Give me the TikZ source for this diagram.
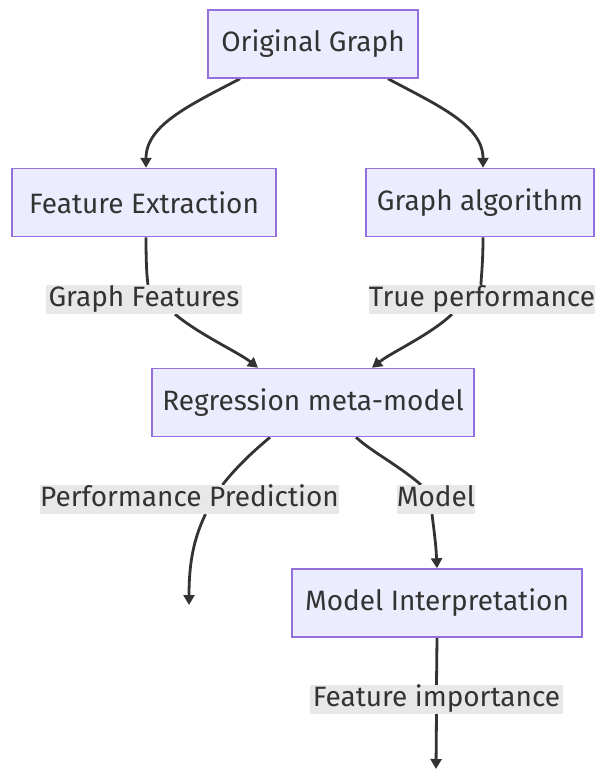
\documentclass[tikz,border=0pt]{standalone}
\usepackage{fontspec}
\setmainfont{Fira Sans}
\usetikzlibrary{arrows.meta,backgrounds}
\definecolor{boxfill}{HTML}{ECECFF}
\definecolor{boxline}{HTML}{9370DB}
\definecolor{lblfill}{HTML}{E8E8E8}
\definecolor{ink}{HTML}{333333}
\begin{document}
\begin{tikzpicture}[x=1pt,y=-1pt,
  box/.style={draw=boxline, fill=boxfill, line width=1.5pt, minimum height=68pt, inner sep=0pt, text=ink, font=\fontsize{28}{32}\selectfont},
  lbl/.style={fill=lblfill, inner sep=0pt, minimum height=29pt, text height=20pt, text depth=6pt, text=ink, font=\fontsize{28}{32}\selectfont},
  conn/.style={draw=ink, line width=2.8pt, -{Triangle[length=10pt,width=11pt]}},
  plain/.style={draw=ink, line width=2.8pt}]
\useasboundingbox (0,0) rectangle (596,769);

\node[box, minimum width=210pt] (og) at (313,44) {Original Graph};
\node[box, minimum width=264pt] (fe) at (144,202.5) {Feature Extraction};
\node[box, minimum width=228pt] (ga) at (480,202.5) {Graph algorithm};
\node[box, minimum width=322pt] (rm) at (313,402.5) {Regression meta-model};
\node[box, minimum width=290pt] (mi) at (437,603) {Model Interpretation};

\node[lbl, minimum width=196pt] (gf) at (144,299.5) {Graph Features};
\node[lbl, minimum width=226pt] (tp) at (482,299.5) {True performance};
\node[lbl, minimum width=299pt] (pp) at (189.5,499.5) {Performance Prediction};
\node[lbl, minimum width=76pt] (md) at (436,499.5) {Model};
\node[lbl, minimum width=253pt] (fi) at (436.5,699.5) {Feature importance};

\coordinate (ppend) at (189,605);
\coordinate (fiend) at (436,769);

\begin{scope}[on background layer]
\draw[conn] ([xshift=-73pt]og.south) .. controls (190,105) and (146,125) .. ([xshift=2pt]fe.north);
\draw[conn] ([xshift=75pt]og.south) .. controls (437,105) and (483,125) .. ([xshift=3pt]ga.north);

\draw[plain] ([xshift=2pt]fe.south) .. controls (146,265) and (147,278) .. ([xshift=4pt]gf.north);
\draw[conn] ([xshift=31pt]gf.south) .. controls (200,335) and (238,352) .. ([xshift=-55pt]rm.north);

\draw[plain] ([xshift=3pt]ga.south) .. controls (483,265) and (481,278) .. ([xshift=-1pt]tp.north);
\draw[conn] ([xshift=-30pt]tp.south) .. controls (430,335) and (392,352) .. ([xshift=59pt]rm.north);

\draw[plain] ([xshift=-43pt]rm.south) .. controls (255,450) and (238,465) .. ([xshift=33pt]pp.north);
\draw[conn] ([xshift=16pt]pp.south) .. controls (193,540) and (189,565) .. (ppend);

\draw[plain] ([xshift=43pt]rm.south) .. controls (372,452) and (398,465) .. ([xshift=-15pt]md.north);
\draw[conn] ([xshift=-4pt]md.south) .. controls (434,530) and (436,545) .. (mi.north);

\draw[plain] (mi.south) -- (fi.north);
\draw[conn] (fi.south) -- (fiend);
\end{scope}
\end{tikzpicture}
\end{document}
